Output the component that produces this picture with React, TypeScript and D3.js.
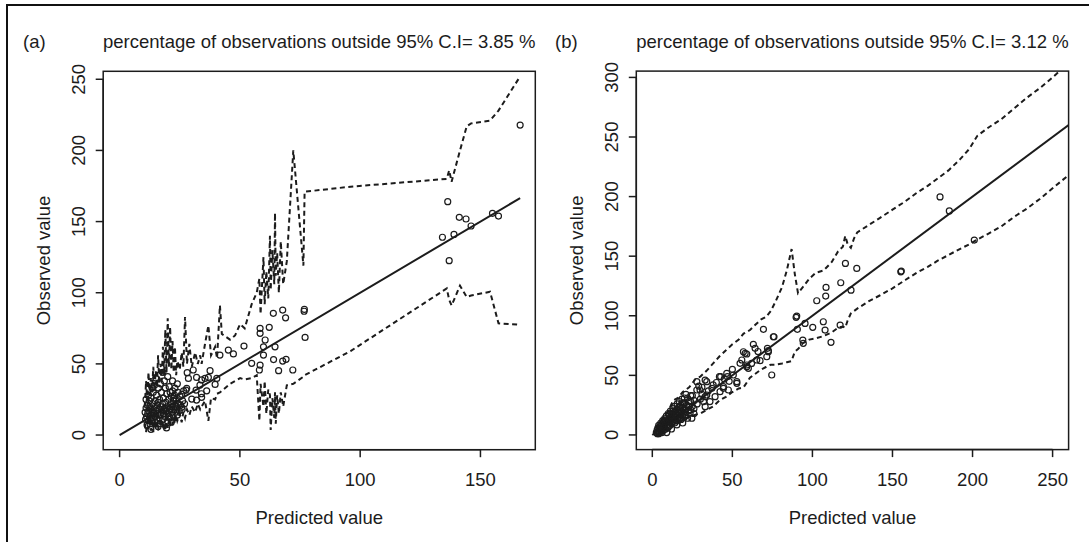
import React from 'react';
import * as d3 from 'd3';

// ---------- Panel (a) data ----------
const titleA = 'percentage of observations outside 95% C.I= 3.85 %';
const xTicksA = [0, 50, 100, 150];
const yTicksA = [0, 50, 100, 150, 200, 250];
const pointsA: [number, number][] = [
  [10.6,16],[10.8,11],[11.0,19],[11.2,13],[11.4,7],[11.5,21],[11.7,15],[11.9,10],[12.1,17],[12.3,24],
  [12.4,12],[12.6,8],[12.8,19],[13.0,14],[13.1,26],[13.3,10],[13.5,17],[13.7,22],[13.9,12],[14.0,30],
  [14.2,15],[14.4,19],[14.6,9],[14.8,24],[15.0,13],[15.1,17],[15.3,28],[15.5,11],[15.7,21],[15.9,15],
  [16.1,33],[16.3,18],[16.5,12],[16.6,25],[16.8,8],[17.0,20],[17.2,14],[17.4,30],[17.6,17],[17.8,22],
  [18.0,11],[18.2,26],[18.4,15],[18.6,38],[18.8,19],[19.0,13],[19.2,23],[19.4,17],[19.6,29],[19.8,10],
  [20.0,20],[20.2,15],[20.4,25],[20.6,34],[20.8,18],[21.0,12],[21.2,22],[21.4,27],[21.6,16],[21.8,20],
  [22.0,31],[22.2,14],[22.4,24],[22.6,18],[22.8,28],[23.0,21],[23.3,16],[23.6,25],[23.9,19],[24.2,30],
  [24.5,22],[24.8,17],[25.1,27],[25.4,21],[25.8,28.6],[25.8,19.5],[26.2,24],[26.6,31],[27.0,22],[27.6,31.6],
  [23.7,19.9],[16.0,6],[13.0,4],[19.5,5],[21.5,9],[12.0,28],[14.5,35],[17.0,36],[22.0,38],[24.0,36],
  [11.0,25],[15.0,40],[18.0,44],[20.0,41],[12.5,20],[14.0,16],[16.0,23],[18.5,18],[20.5,13],[22.5,26],
  [24.0,14],[26.0,18],[13.5,33],[19.0,33],[21.0,30],[23.0,33],
  [28.1,43.8],[30.6,45.7],[28.6,39.8],[32.0,40.5],[34.1,38.7],[35.5,39.8],[36.9,40.5],[37.6,45.2],[40.4,39.8],
  [39.7,35.6],[33.4,35.1],[27.9,32.8],[31.8,31.6],[34.0,29],[36.2,31.1],[30.0,25.3],[32.0,24.6],[34.1,26.5],
  [41.7,56.2],[45.2,59.7],[47.3,57],[51.7,62.5],[54.9,50.4],[58.4,49.2],[58.1,45.7],[59.8,56.2],[59.8,62],
  [60.5,66.8],[58.4,75],[58.4,71.5],[62.2,75.7],[63.9,85.5],[64.6,62],[64,53],[66.1,45.2],[67.8,87.8],
  [67.8,52],[69,82.4],[69.2,53.2],[72,45.7],[76.8,88.3],[76.7,87],[77.1,68.6],
  [134.2,139],[136.4,164],[137,122.5],[139,141],[141.2,153],[144,151.8],[146.1,146.9],[155,155.8],
  [157.5,153.9],[166.5,217.8],
];
const ciXA = [
  10.5,11,11.5,12,12.5,13,13.5,14,14.5,15,15.5,16,16.5,17,17.5,18,18.5,19,19.5,20,
  20.5,21,21.5,22,22.5,23,23.5,24,25,25.8,26.5,27.2,28,29,30,31.4,32.5,33.5,34.1,35.5,
  36.9,38,39.7,40.5,41.7,42.5,45.9,48,50.1,52,54.9,57,58.1,58.6,59.8,60.3,61,61.8,62.5,62.8,
  63.5,64.3,64.6,64.9,65.5,66.2,67,68,69.5,72.2,76.4,76.9,96,136,137,138,141.5,144.3,146.1,154,
  157.5,166.5,
];
const ciLoA = [
  8,2,10,4,12,3,9,2,11,5,13,3,10,6,14,4,9,3,12,5,
  10,6,13,7,12,8,14,10,15,9,16,12,18,14,20,16,22,18,20,24,
  10,26,25,29,30,31,36,38,40,39,40,42,10,36,20,38,15,32,28,3.5,
  26,12,30,8,28,15,30,20,35,36,41,42,59,103,95,91,105,97,98,100.7,
  78.5,77.5,
];
const ciHiA = [
  20,38,24,44,28,40,30,48,32,45,34,56,36,50,38,62,42,74,44,82,
  48,76,46,66,44,62,42,52,46,58,48,83,50,64,48,58,50,56,50,64,
  77,56,62,54,91,71,67,70,78,75,92,100,110,85,125,92,115,96,140,102,
  130,106,156,112,128,100,136,106,122,200,119,171,174.5,180,186,178,200,217,219,221,
  228,252,
];

// ---------- Panel (b) data ----------
const titleB = 'percentage of observations outside 95% C.I= 3.12 %';
const xTicksB = [0, 50, 100, 150, 200, 250];
const yTicksB = [0, 50, 100, 150, 200, 250, 300];
const pointsB: [number, number][] = [
  [2.5,2],[3,4],[3.2,1],[3.5,6],[3.8,3],[4,8],[4.3,5],[4.5,2],[4.8,7],[5,4],[5.3,10],[5.5,6],[5.8,3],[6,9],
  [6.3,5],[6.5,12],[6.8,8],[7,4],[7.3,11],[7.5,7],[7.8,14],[8,9],[8.3,5],[8.5,12],[8.8,16],[9,8],[9.3,11],
  [9.5,14],[9.8,6],[10,18],[10.3,10],[10.5,13],[10.8,16],[11,8],[11.3,20],[11.5,12],[11.8,15],[12,10],
  [12.3,18],[12.5,14],[12.8,22],[13,11],[13.3,16],[13.5,19],[13.8,13],[14,24],[14.3,15],[14.5,18],[14.8,12],
  [15,21],[15.3,16],[15.5,26],[15.8,14],[16,19],[16.3,23],[16.5,15],[16.8,28],[17,18],[17.3,21],[17.5,14],
  [17.8,25],[18,17],[18.3,20],[18.5,30],[18.8,16],[19,23],[19.5,19],[20,27],[20.5,21],[21,17],[21.5,25],
  [22,31],[22.5,20],[23,24],[23.6,18.2],[24,28],[24.7,14],[25,33],[15.3,8.4],[17.4,14],[19,10],[21,34],
  [12,5],[9,2],[4,1],[6,2],[7,6],[8,11],[10,7],[11,14],[12,16],[13,20],[14,10],[15,17],[16,12],[17,24],
  [18,13],[19,27],[20,15],[21,22],[22,14],[23,28],[24,21],[25,24],[26,29],[26,18],[24,33],[20,31],
  [27.8,37.7],[27.8,44.7],[29.8,37.7],[31,40],[33,46],[33,32.1],[33,23.7],[34,44.7],[34,33.5],[37.2,39.1],
  [39.2,32.1],[41.9,48.9],[42.3,36.3],[42.7,48.9],[44.4,40.5],[44.4,39.1],[46.5,51.7],[46.9,48.9],[47.5,37.7],
  [50.6,50.3],[52.8,43.3],[52.8,44.7],[54.8,60.1],[55.9,62.9],[56.9,69.8],[58,68.5],[59,67.9],[59,57.3],
  [59,58.7],[60,55.9],[63.1,76],[64.2,72.7],[65.2,62.9],[67.3,62.3],[69.4,88.6],[71.5,65.6],[71.9,72.7],
  [72.5,70.7],[72.5,69.8],[74.6,50.3],[75.6,82.4],[76,82.4],[36,28],[38,42],[48,45],[50,55],[62,60],[66,70],
  [30,30],[26,22],[28,26],[31,34],[35,37],[40,44],[45,47],[29,41],[32,28],
  [89.8,98.7],[90.2,99.7],[90.6,88.6],[94,79.6],[95.4,93.6],[100.2,90.3],[102.7,112.6],[106.8,95],[107.9,88],
  [108.3,116.5],[108.5,123.8],[111.6,77.7],[117.3,92.2],[117.7,127.7],[120.6,143.9],[124.1,121.5],[127.7,139.7],
  [155.2,136.9],[155.5,137.5],[179.7,199.7],[185.5,188],[201.1,163.5],[94.3,76.9],
];
const ciXB = [
  2,5,8,10,13,16,19,23,27,30,34,38,42,46,50,54,57,61,64,68,71,74,77,81,84,87,89,91,94,98,
  102,107,112,116,119,120.5,122,124,126,128,135,142,150,158,165,172,178,185,192,198,203,210,218,226,
  234,242,250,260,
];
const ciHiB = [
  6,11,17,20,29,31,36,40,47,49,54,60,66,71,76,80,85,88,92,97,99,104,112,124,138,156,135,119,124,131,
  136,138,145,154,158,167,160,157,165,170,176,182,189,196,203,209,215,222,231,240,251,258,265,274,
  283,291,300,312,
];
const ciLoB = [
  0,1,4,5,8,10,12,15,17,18,21,24,29,32,36,39,40,48,51,55,57,59,59,60,61,62,70,72,77,80,
  81,83,86,90,91,90,96,102,104,106,112,117,123,130,136,141,146,151,156,160,164,169,175,183,
  190,198,207,218,
];

const FONT = '"Liberation Sans", Arial, Helvetica, sans-serif';
const INK = '#1c1c1c';
const FS = 18.5;

type PanelCfg = {
  id: string;
  tag: string;
  tagX: number;
  title: string;
  box: { l: number; r: number; t: number; b: number };
  xDom: [number, number];
  yDom: [number, number];
  xTicks: number[];
  yTicks: number[];
  points: [number, number][];
  ciX: number[];
  ciLo: number[];
  ciHi: number[];
  lineEnd: number;
};

function Panel({ c }: { c: PanelCfg }) {
  const { l, r, t, b } = c.box;
  const x = d3.scaleLinear().domain(c.xDom).range([l, r]);
  const y = d3.scaleLinear().domain(c.yDom).range([b, t]);
  const line = d3.line<[number, number]>().x(d => x(d[0])).y(d => y(d[1]));
  const lo: [number, number][] = c.ciX.map((v, i) => [v, c.ciLo[i]]);
  const hi: [number, number][] = c.ciX.map((v, i) => [v, c.ciHi[i]]);
  const cx = (l + r) / 2;
  const cy = (t + b) / 2;
  const tickLen = 7.5;
  const xt0 = x(c.xTicks[0]);
  const xt1 = x(c.xTicks[c.xTicks.length - 1]);
  const yt0 = y(c.yTicks[0]);
  const yt1 = y(c.yTicks[c.yTicks.length - 1]);
  return (
    <g>
      <defs>
        <clipPath id={`clip-${c.id}`}>
          <rect x={l} y={t} width={r - l} height={b - t} />
        </clipPath>
      </defs>
      <text x={c.tagX} y={48} fontSize={FS} fill={INK}>{c.tag}</text>
      <text x={cx} y={48} fontSize={FS} fill={INK} textAnchor="middle">{c.title}</text>
      <g clipPath={`url(#clip-${c.id})`}>
        <path d={line(hi) || ''} fill="none" stroke={INK} strokeWidth={2} strokeDasharray="5,3.5" />
        <path d={line(lo) || ''} fill="none" stroke={INK} strokeWidth={2} strokeDasharray="5,3.5" />
        <path d={line([[0, 0], [c.lineEnd, c.lineEnd]]) || ''} fill="none" stroke={INK} strokeWidth={2} />
        {c.points.map((p, i) => (
          <circle key={i} cx={x(p[0])} cy={y(p[1])} r={3} fill="none" stroke={INK} strokeWidth={1.2} />
        ))}
      </g>
      <rect x={l} y={t} width={r - l} height={b - t} fill="none" stroke={INK} strokeWidth={1.5} />
      <line x1={xt0} x2={xt1} y1={b} y2={b} stroke={INK} strokeWidth={1.5} />
      {c.xTicks.map(v => (
        <g key={`x${v}`}>
          <line x1={x(v)} x2={x(v)} y1={b} y2={b + tickLen} stroke={INK} strokeWidth={1.5} />
          <text x={x(v)} y={485.5} fontSize={FS} fill={INK} textAnchor="middle">{v}</text>
        </g>
      ))}
      <line x1={l} x2={l} y1={yt0} y2={yt1} stroke={INK} strokeWidth={1.5} />
      {c.yTicks.map(v => (
        <g key={`y${v}`}>
          <line x1={l} x2={l - tickLen} y1={y(v)} y2={y(v)} stroke={INK} strokeWidth={1.5} />
          <text
            transform={`translate(${l - 18},${y(v)}) rotate(-90)`}
            fontSize={FS}
            fill={INK}
            textAnchor="middle"
          >
            {v}
          </text>
        </g>
      ))}
      <text x={cx} y={524.4} fontSize={FS} fill={INK} textAnchor="middle">Predicted value</text>
      <text
        transform={`translate(${l - 53.3},${cy}) rotate(-90)`}
        fontSize={FS}
        fill={INK}
        textAnchor="middle"
      >
        Observed value
      </text>
    </g>
  );
}

const panelA: PanelCfg = {
  id: 'a',
  tag: '(a)',
  tagX: 23,
  title: titleA,
  box: { l: 103.2, r: 535.3, t: 71.3, b: 449.7 },
  xDom: [-6.82, 172.8],
  yDom: [-10.3, 255.6],
  xTicks: xTicksA,
  yTicks: yTicksA,
  points: pointsA,
  ciX: ciXA,
  ciLo: ciLoA,
  ciHi: ciHiA,
  lineEnd: 166.5,
};

const panelB: PanelCfg = {
  id: 'b',
  tag: '(b)',
  tagX: 555,
  title: titleB,
  box: { l: 636.3, r: 1068.6, t: 71.1, b: 449.6 },
  xDom: [-10, 260],
  yDom: [-12.3, 305.3],
  xTicks: xTicksB,
  yTicks: yTicksB,
  points: pointsB,
  ciX: ciXB,
  ciLo: ciLoB,
  ciHi: ciHiB,
  lineEnd: 262,
};

export default function App() {
  return (
    <svg
      width={1089}
      height={542}
      style={{ position: 'absolute', left: 0, top: 0, background: '#fff' }}
      fontFamily={FONT}
    >
      <rect x={0} y={0} width={1089} height={542} fill="#fff" />
      <rect x={7} y={5} width={1200} height={700} fill="none" stroke="#111" strokeWidth={2} />
      <Panel c={panelA} />
      <Panel c={panelB} />
    </svg>
  );
}
